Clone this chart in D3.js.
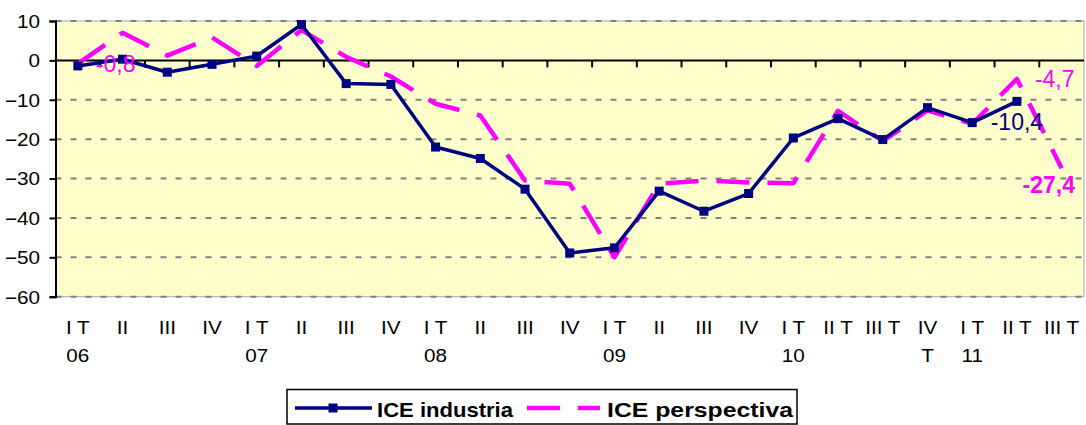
<!DOCTYPE html>
<html><head><meta charset="utf-8">
<script src="https://cdn.jsdelivr.net/npm/d3@7/dist/d3.min.js"></script>
<style>
html,body{margin:0;padding:0;background:#fff;}
text{font-family:"Liberation Sans",Arial,sans-serif;}
</style></head>
<body><svg id="c" width="1086" height="425"></svg>
<script>
const categories = ["I T|06","II","III","IV","I T|07","II","III","IV","I T|08","II","III","IV","I T|09","II","III","IV","I T|10","II T","III T","IV|T","I T|11","II T","III T"];
const industria = [-1.4,0.3,-3.0,-1.0,1.1,9.1,-5.9,-6.1,-22.0,-24.9,-32.7,-48.9,-47.6,-33.2,-38.3,-33.8,-19.7,-14.8,-20.1,-12.0,-15.8,-10.4,null];
const perspectiva = [-0.8,7.0,1.2,5.8,-1.4,7.7,0.9,-4.1,-11.0,-14.0,-30.5,-31.3,-50.0,-31.3,-30.5,-31.0,-31.2,-12.8,-20.5,-12.7,-16.1,-4.7,-27.4];
const yTicks = [10,0,-10,-20,-30,-40,-50,-60];
const seriesNames = ["ICE industria","ICE perspectiva"];
const labels = [
  {series:"perspectiva", index:0, text:"-0,8", pos:"right", bold:false},
  {series:"perspectiva", index:21, text:"-4,7", pos:"right", bold:false},
  {series:"industria", index:21, text:"-10,4", pos:"below", bold:false},
  {series:"perspectiva", index:22, text:"-27,4", pos:"belowClip", bold:true}
];

const svg = d3.select("#c");
const L = 55.5, R = 1084, T = 21, B = 296.7;
const SX = 1.15;
const x = d3.scaleBand().domain(d3.range(categories.length)).range([L,R]).padding(0);
const y = d3.scaleLinear().domain([-60,10]).range([B,T]);
const cx = i => x(i) + x.bandwidth()/2;
const NAVY = "#000080", MAG = "#FF00FF";

// plot area
svg.append("rect").attr("x",L).attr("y",T).attr("width",R-L).attr("height",B-T)
  .attr("fill","#FFFFCC").attr("stroke","#a8a8a8").attr("stroke-width",1);

// gridlines
svg.append("g").selectAll("line").data(yTicks.filter(d=>d!==0)).join("line")
  .attr("x1",L).attr("x2",R).attr("y1",d=>y(d)).attr("y2",d=>y(d))
  .attr("stroke","#808080").attr("stroke-width",2).attr("stroke-dasharray","6,9");

// y axis
const ya = svg.append("g").attr("transform",`translate(${L},0)`)
  .call(d3.axisLeft(y).tickValues(yTicks).tickSize(6).tickPadding(8).tickFormat(d3.format("d")));
ya.select(".domain").attr("stroke","#000").attr("stroke-width",2);
ya.selectAll(".tick line").attr("stroke","#000").attr("stroke-width",2);
ya.selectAll(".tick text").attr("font-size",18).attr("fill","#000")
  .style("font-family",'"Liberation Sans",Arial,sans-serif').attr("dy","0.35em")
  .attr("x",-15.5/SX).attr("transform",`scale(${SX},1)`);

// x axis at zero
const xa = svg.append("g").attr("transform",`translate(0,${y(0)})`);
xa.append("line").attr("x1",L).attr("x2",R).attr("y1",0).attr("y2",0).attr("stroke","#000").attr("stroke-width",2);
xa.selectAll("line.tk").data(d3.range(1,categories.length)).join("line").attr("class","tk")
  .attr("x1",d=>x(d)).attr("x2",d=>x(d)).attr("y1",0).attr("y2",7).attr("stroke","#000").attr("stroke-width",2);

// x labels (below plot)
const xl = svg.append("g");
categories.forEach((c,i)=>{
  const parts = c.split("|");
  const t = xl.append("text").attr("transform",`translate(${cx(i)},334) scale(${SX},1)`)
    .attr("text-anchor","middle").attr("font-size",18).attr("fill","#000");
  parts.forEach((p,k)=>t.append("tspan").attr("x",0).attr("y",k*28).text(p));
});

// perspectiva line
const lineP = d3.line().defined(d=>d!=null).x((d,i)=>cx(i)).y(d=>y(d));
svg.append("path").datum(perspectiva).attr("d",lineP).attr("fill","none")
  .attr("stroke",MAG).attr("stroke-width",4.5).attr("stroke-dasharray","33,18").attr("stroke-linejoin","round");

// industria line
svg.append("path").datum(industria).attr("d",lineP).attr("fill","none")
  .attr("stroke",NAVY).attr("stroke-width",3.5).attr("stroke-linejoin","round");
svg.append("g").selectAll("rect").data(industria.map((v,i)=>({v,i})).filter(d=>d.v!=null)).join("rect")
  .attr("x",d=>cx(d.i)-4.5).attr("y",d=>y(d.v)-4.5).attr("width",9).attr("height",9).attr("fill",NAVY);

// data labels
const ser = {industria, perspectiva};
labels.forEach(l=>{
  const v = ser[l.series][l.index], px = cx(l.index), py = y(v);
  const t = svg.append("text").attr("font-size",23).attr("fill", l.series==="industria"?NAVY:MAG)
    .attr("font-weight", l.bold?"bold":"normal").text(l.text);
  if(l.pos==="right"){ t.attr("x",px+18).attr("y",py+8); }
  else if(l.pos==="below"){ t.attr("x",px).attr("y",py+29).attr("text-anchor","middle"); }
  else { t.attr("x",R-9).attr("y",py+25).attr("text-anchor","end"); }
});

// legend
const lg = svg.append("g");
lg.append("rect").attr("x",287).attr("y",389.5).attr("width",510).attr("height",34.5)
  .attr("fill","#fff").attr("stroke","#000").attr("stroke-width",1.5);
lg.append("line").attr("x1",295).attr("x2",372).attr("y1",408).attr("y2",408).attr("stroke",NAVY).attr("stroke-width",3.5);
lg.append("rect").attr("x",328.5).attr("y",403.5).attr("width",9).attr("height",9).attr("fill",NAVY);
lg.append("text").attr("x",377).attr("y",417).attr("font-size",21).attr("font-weight","bold")
  .attr("textLength",136).attr("lengthAdjust","spacingAndGlyphs").text(seriesNames[0]);
lg.append("line").attr("x1",527).attr("x2",600).attr("y1",408).attr("y2",408).attr("stroke",MAG).attr("stroke-width",4.5).attr("stroke-dasharray","33,18");
lg.append("text").attr("x",607).attr("y",417).attr("font-size",21).attr("font-weight","bold")
  .attr("textLength",186).attr("lengthAdjust","spacingAndGlyphs").text(seriesNames[1]);
</script></body></html>
